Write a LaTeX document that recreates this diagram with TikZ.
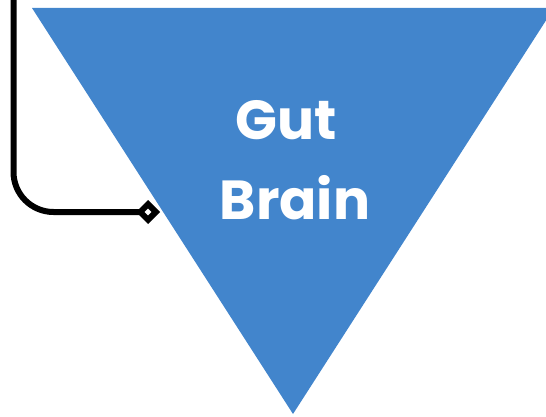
\documentclass[tikz,border=0pt]{standalone}
\usepackage{fontspec}
\newfontfamily\poppins{Poppins}
\usetikzlibrary{arrows.meta}
\definecolor{gbblue}{RGB}{66,133,204}

\begin{document}
\begin{tikzpicture}[x=1pt,y=1pt,
  wire/.style={line width=6pt, rounded corners=40pt,
    -{Diamond[open,fill=white,length=24pt,width=24pt]}},
  label/.style={font=\poppins\bfseries\fontsize{55}{80}\selectfont, text=white, align=center}]
  \useasboundingbox (0,0) rectangle (546,416);
  \clip (0,0) rectangle (546,416);
  % Inverted triangle
  \fill[gbblue] (32,408) -- (554,408) -- (293,2) -- cycle;
  \node[label] (gutbrain) at (286,256) {Gut\\\hspace*{18pt}Brain};
  % Connector with diamond end
  \coordinate (wiretop) at (13.5,420);
  \coordinate (wireend) at (160,204);
  \draw[wire] (wiretop) |- (wireend);
\end{tikzpicture}
\end{document}
